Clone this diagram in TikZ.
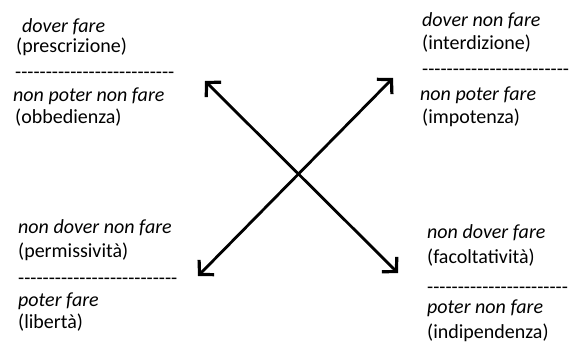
\documentclass[tikz,border=0pt]{standalone}
\usepackage{fontspec}
\setmainfont{Carlito}[Ligatures=TeXOff]
\usetikzlibrary{arrows.meta}
\tikzset{
  lbl/.style={anchor=base west, inner sep=0pt, font=\fontsize{20}{24}\selectfont},
  ilbl/.style={lbl, font=\fontsize{20}{24}\selectfont\itshape},
  dbl/.style={<->, >={Straight Barb[length=10pt,width=21pt,line width=3.2pt]}, line width=2.8pt, line cap=round}
}
\begin{document}
\begin{tikzpicture}[x=1pt,y=-1pt]
\useasboundingbox (0,0) rectangle (569,342);
% top left
\node[ilbl] (a1) at (22,33) {dover fare};
\node[lbl] (a2) at (16,53) {(prescrizione)};
\node[lbl] (a3) at (15,79) {--------------------------};
\node[ilbl] (a4) at (13,101) {non poter non fare};
\node[lbl] (a5) at (15,123) {(obbedienza)};
% top right
\node[ilbl] (b1) at (422,27) {dover non fare};
\node[lbl] (b2) at (422,50) {(interdizione)};
\node[lbl] (b3) at (422,76) {------------------------};
\node[ilbl] (b4) at (420,100) {non poter fare};
\node[lbl] (b5) at (422,123) {(impotenza)};
% bottom left
\node[ilbl] (c1) at (18,233) {non dover non fare};
\node[lbl] (c2) at (18,257) {(permissività)};
\node[lbl] (c3) at (18,284) {--------------------------};
\node[ilbl] (c4) at (18,306) {poter fare};
\node[lbl] (c5) at (18,328) {(libertà)};
% bottom right
\node[ilbl] (d1) at (427,238) {non dover fare};
\node[lbl] (d2) at (427,263) {(facoltatività)};
\node[lbl] (d3) at (427,293) {-----------------------};
\node[ilbl] (d4) at (427,313) {poter non fare};
\node[lbl] (d5) at (427,338) {(indipendenza)};
% arrows
\coordinate (tl) at (205,81);
\coordinate (br) at (398,273);
\coordinate (tr) at (393,78);
\coordinate (bl) at (198,276);
\draw[dbl] (tl) -- (br);
\draw[dbl] (bl) -- (tr);
\end{tikzpicture}
\end{document}
